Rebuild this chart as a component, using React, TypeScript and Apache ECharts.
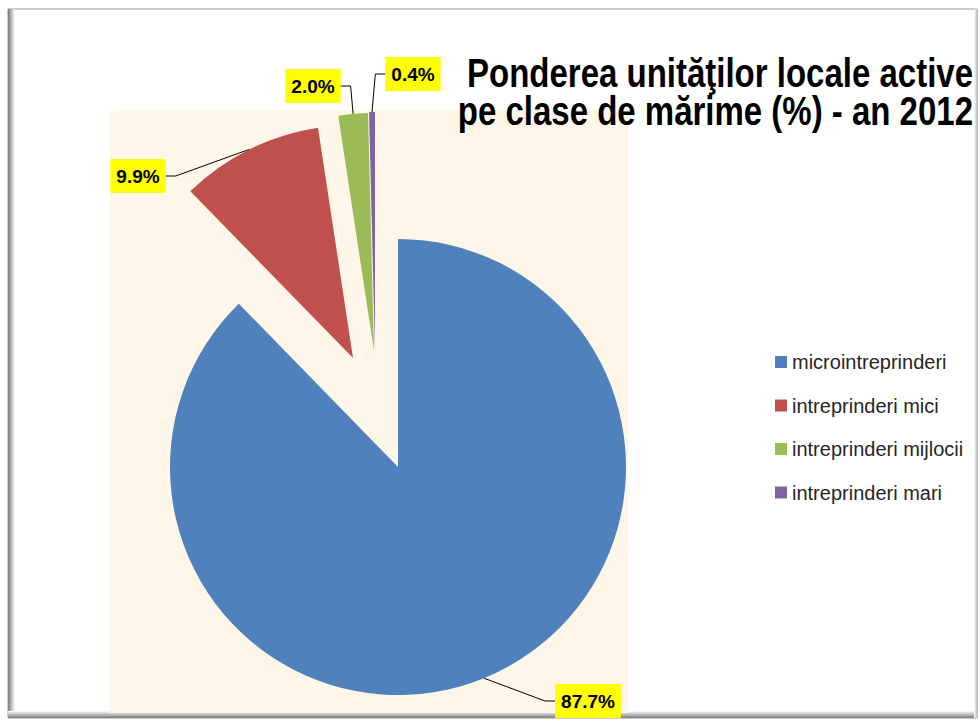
import React, { useEffect, useRef } from "react";
import * as echarts from "echarts";

const categories = [
  "microintreprinderi",
  "intreprinderi mici",
  "intreprinderi mijlocii",
  "intreprinderi mari",
];
const shares = [87.7, 9.9, 2.0, 0.4];
const colors = ["#4F81BD", "#C0504D", "#9BBB59", "#8064A2"];
const titleLines = ["Ponderea unităţilor locale active", "pe clase de mărime (%) - an 2012"];

// layout only: pie centre / radius of each (exploded) slice and label box centres
const sliceCenters: [number, number][] = [
  [398, 467],
  [353, 358],
  [374, 351],
  [375, 350],
];
const sliceRadii = [228, 233, 238, 238];
const labelCenters: [number, number][] = [
  [588, 701],
  [138, 176],
  [313, 86],
  [413, 74],
];

const FONT = "'Liberation Sans', Arial, sans-serif";

export default function App() {
  const ref = useRef<HTMLDivElement>(null);
  useEffect(() => {
    if (!ref.current) return;
    const chart = echarts.init(ref.current, undefined, { renderer: "svg" });

    const series = categories.map((cat, k) => ({
      type: "pie",
      center: sliceCenters[k],
      radius: sliceRadii[k],
      startAngle: 90,
      clockwise: true,
      silent: true,
      emphasis: { disabled: true },
      itemStyle: { borderWidth: 0 },
      label: {
        show: true,
        formatter: (p: any) => p.value.toFixed(1) + "%",
        fontFamily: FONT,
        fontSize: 19,
        fontWeight: "bold",
        color: "#000",
        backgroundColor: "#FFFF00",
        padding: [8, 6, 7, 6],
      },
      labelLine: {
        show: true,
        length: 10,
        length2: 10,
        lineStyle: { color: "#000", width: 1 },
      },
      labelLayout: (params: any) => {
        const c = labelCenters[params.dataIndex];
        return { x: c[0], y: c[1], align: "center", verticalAlign: "middle" };
      },
      data: categories.map((name, i) => ({
        name: i === k ? name : "",
        value: shares[i],
        itemStyle: i === k ? { color: colors[i] } : { opacity: 0 },
        label: { show: i === k },
        labelLine: { show: i === k },
      })),
    }));

    const option: any = {
      animation: false,
      color: colors,
      graphic: [
        {
          type: "rect",
          z: -10,
          shape: { x: 8, y: 9, width: 969, height: 709 },
          style: { fill: "#ffffff", stroke: "#9a9a9a", lineWidth: 1 },
          silent: true,
        },
        {
          type: "rect",
          z: -9,
          shape: { x: 8, y: 9, width: 7, height: 709 },
          style: {
            fill: new echarts.graphic.LinearGradient(0, 0, 1, 0, [
              { offset: 0, color: "#7a7a7a" },
              { offset: 1, color: "#ffffff" },
            ]),
          },
          silent: true,
        },
        {
          type: "rect",
          z: -9,
          shape: { x: 8, y: 711, width: 969, height: 7 },
          style: {
            fill: new echarts.graphic.LinearGradient(0, 0, 0, 1, [
              { offset: 0, color: "#ffffff" },
              { offset: 1, color: "#7a7a7a" },
            ]),
          },
          silent: true,
        },
        {
          type: "rect",
          z: -9,
          shape: { x: 974, y: 9, width: 4, height: 709 },
          style: {
            fill: new echarts.graphic.LinearGradient(0, 0, 1, 0, [
              { offset: 0, color: "#ffffff" },
              { offset: 1, color: "#b0b0b0" },
            ]),
          },
          silent: true,
        },
        {
          type: "rect",
          z: -8,
          shape: { x: 110, y: 110, width: 518, height: 603 },
          style: { fill: "#FEF6E8" },
          silent: true,
        },
        ...titleLines.map((t, i) => ({
          type: "text",
          z: 10,
          x: 973,
          y: 73 + i * 38,
          scaleY: 1.22,
          style: {
            text: t,
            fontFamily: FONT,
            fontWeight: "bold",
            fontSize: 33,
            fill: "#000",
            textAlign: "right",
            textVerticalAlign: "middle",
          },
          silent: true,
        })),
      ],
      legend: {
        orient: "vertical",
        left: 775,
        top: 351,
        padding: 0,
        itemWidth: 12,
        itemHeight: 12,
        itemGap: 21.5,
        icon: "rect",
        selectedMode: false,
        itemStyle: { opacity: 1 },
        data: categories.map((name, i) => ({ name, itemStyle: { color: colors[i] } })),
        textStyle: {
          fontFamily: FONT,
          fontSize: 20,
          lineHeight: 22,
          color: "#262626",
        },
      },
      series,
    };
    chart.setOption(option);
    return () => chart.dispose();
  }, []);
  return (
    <div
      ref={ref}
      style={{ position: "fixed", left: 0, top: 0, width: 980, height: 720, background: "#fff" }}
    />
  );
}
